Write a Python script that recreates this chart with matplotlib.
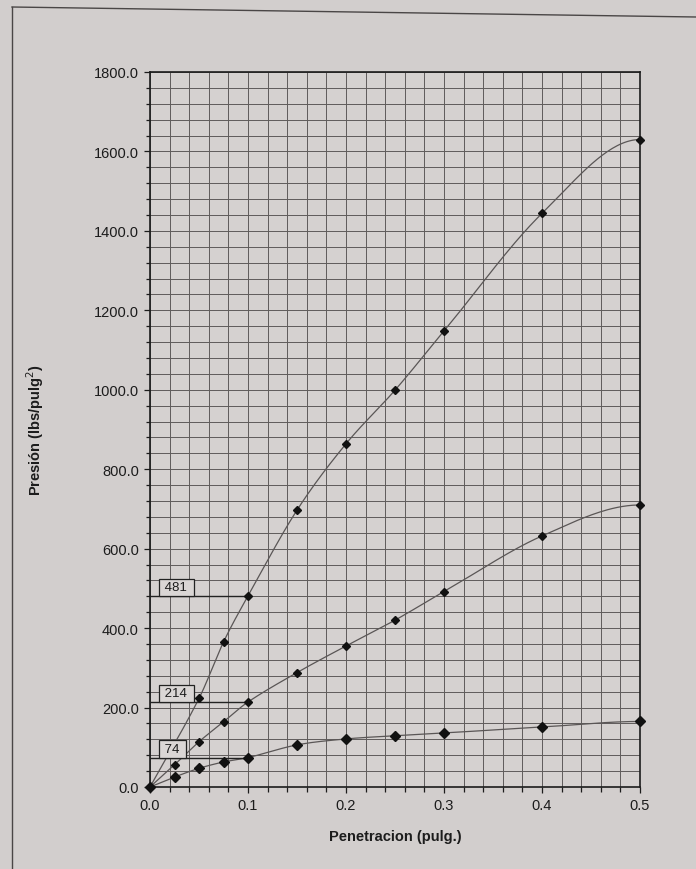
import numpy as np
import matplotlib
matplotlib.use("Agg")
import matplotlib.pyplot as plt
from matplotlib.ticker import MultipleLocator, FormatStrFormatter
from matplotlib.lines import Line2D

# CBR penetration test: pressure vs. penetration for three specimens
pen_top = [0.0, 0.05, 0.075, 0.1, 0.15, 0.2, 0.25, 0.3, 0.4, 0.5]
pres_top = [0, 223, 365, 481, 697, 864, 999, 1148, 1444, 1630]

pen = [0.0, 0.025, 0.05, 0.075, 0.1, 0.15, 0.2, 0.25, 0.3, 0.4, 0.5]
pres_mid = [0, 56, 114, 164, 214, 288, 355, 420, 492, 632, 710]
pres_low = [0, 25, 47, 63, 74, 106, 121, 129, 136, 151, 165]

# values read at 0.1" penetration
ref_pen = 0.1
ref_values = [481, 214, 74]

PAPER = "#d2cecd"
INK = "#1c1c1c"


def smooth_curve(xs, ys, n=40):
    """Piecewise cubic Hermite curve through the points (level at the last one)."""
    xs = np.asarray(xs, float)
    ys = np.asarray(ys, float)
    m = np.empty_like(ys)
    m[1:-1] = (ys[2:] - ys[:-2]) / (xs[2:] - xs[:-2])
    m[0] = (ys[1] - ys[0]) / (xs[1] - xs[0])
    m[-1] = 0.0
    cx, cy = [], []
    for i in range(len(xs) - 1):
        h = xs[i + 1] - xs[i]
        t = np.linspace(0, 1, n, endpoint=(i == len(xs) - 2))
        h00 = 2 * t**3 - 3 * t**2 + 1
        h10 = t**3 - 2 * t**2 + t
        h01 = -2 * t**3 + 3 * t**2
        h11 = t**3 - t**2
        cy.append(h00 * ys[i] + h10 * h * m[i] + h01 * ys[i + 1] + h11 * h * m[i + 1])
        cx.append(xs[i] + t * h)
    return np.concatenate(cx), np.concatenate(cy)


plt.rcParams["font.family"] = ["Liberation Sans", "DejaVu Sans"]

fig = plt.figure(figsize=(6.96, 8.7), dpi=100, facecolor=PAPER)

# sheet border
fig.add_artist(Line2D([12 / 696, 12 / 696], [0, 1 - 8 / 870], color="#4a4646", lw=1.0))
fig.add_artist(Line2D([12 / 696, 1.0], [1 - 8 / 870, 1 - 18 / 870], color="#4a4646", lw=1.0))

ax = fig.add_axes([150 / 696, 82 / 870, 490 / 696, 715 / 870])
ax.set_facecolor("#d5d1d0")

ax.set_xlim(0, 0.5)
ax.set_ylim(0, 1800)

ax.xaxis.set_major_locator(MultipleLocator(0.1))
ax.xaxis.set_minor_locator(MultipleLocator(0.02))
ax.yaxis.set_major_locator(MultipleLocator(200))
ax.yaxis.set_minor_locator(MultipleLocator(40))
ax.xaxis.set_major_formatter(FormatStrFormatter("%.1f"))
ax.yaxis.set_major_formatter(FormatStrFormatter("%.1f"))

ax.grid(which="both", color="#5f5b5b", lw=0.7, zorder=1)
ax.set_axisbelow(True)
ax.tick_params(which="both", direction="out", color=INK, width=0.9, labelsize=10.5,
               labelcolor=INK, pad=3.5)
ax.tick_params(which="major", length=4.5)
ax.tick_params(which="minor", length=3.5)
ax.tick_params(axis="y", which="minor", length=3)
for s in ax.spines.values():
    s.set_color(INK)
    s.set_linewidth(1.2)

# curves with markers
for xs, ys, ms in [(pen_top, pres_top, 4.2), (pen, pres_mid, 4.2), (pen, pres_low, 5.0)]:
    sx, sy = smooth_curve(xs, ys)
    ax.plot(sx, sy, color="#5a5656", lw=0.9, zorder=3, clip_on=False)
    ax.plot(xs, ys, ls="none", marker="D", ms=ms, color="#111111", zorder=4, clip_on=False)

# reference lines and value boxes at 0.1"
for v in ref_values:
    ax.hlines(v, 0, ref_pen, color="#222222", lw=1.0, zorder=3)
    ax.annotate(f" {v} ", xy=(0, v), xytext=(8.2, 1.9), textcoords="offset points",
                ha="left", va="bottom", fontsize=9.5, color=INK, zorder=5,
                bbox=dict(boxstyle="square,pad=0.2", fc="#dad6d5", ec="#222222", lw=0.9))

ax.set_xlabel("Penetracion (pulg.)", fontsize=10.5, fontweight="bold", color=INK)
ax.set_ylabel("Presión (lbs/pulg$^{2}$)", fontsize=10.5, fontweight="bold", color=INK)
ax.xaxis.set_label_coords(0.5, -0.0685)
ax.xaxis.label.set_va("center")
ax.yaxis.set_label_coords(-0.235, 0.5)
ax.yaxis.label.set_va("center")

fig.savefig("out.png", dpi=100, facecolor=PAPER)
